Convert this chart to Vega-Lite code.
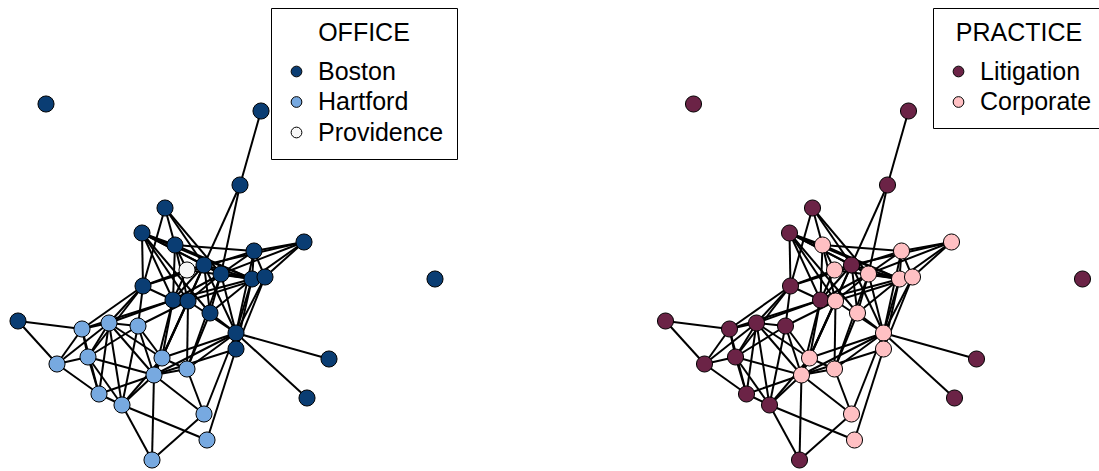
{
  "$schema": "https://vega.github.io/schema/vega-lite/v6.json",
  "padding": 0,
  "spacing": 0,
  "background": "white",
  "config": {
    "view": {"stroke": null},
    "font": "Liberation Sans",
    "legend": {
      "orient": "none",
      "strokeColor": "black",
      "strokeWidth": 1,
      "fillColor": "white",
      "cornerRadius": 0,
      "padding": 13,
      "titleFontSize": 25,
      "titleFontWeight": "normal",
      "titleColor": "black",
      "titleAnchor": "middle",
      "titlePadding": 13,
      "labelFontSize": 25,
      "labelColor": "black",
      "labelOffset": 9,
      "rowPadding": 4.5,
      "symbolSize": 115,
      "symbolStrokeColor": "black",
      "symbolStrokeWidth": 1,
      "symbolType": "circle"
    }
  },
  "datasets": {
    "nodes": [
      {"id": 1, "x": 240, "y": 185, "office": "Boston", "practice": "Litigation"},
      {"id": 2, "x": 165, "y": 208, "office": "Boston", "practice": "Litigation"},
      {"id": 3, "x": 142, "y": 233, "office": "Boston", "practice": "Litigation"},
      {"id": 4, "x": 175, "y": 245, "office": "Boston", "practice": "Corporate"},
      {"id": 5, "x": 254, "y": 251, "office": "Boston", "practice": "Corporate"},
      {"id": 6, "x": 304, "y": 242, "office": "Boston", "practice": "Corporate"},
      {"id": 7, "x": 187, "y": 270, "office": "Providence", "practice": "Corporate"},
      {"id": 8, "x": 204, "y": 265, "office": "Boston", "practice": "Litigation"},
      {"id": 9, "x": 221, "y": 274, "office": "Boston", "practice": "Corporate"},
      {"id": 10, "x": 252, "y": 279, "office": "Boston", "practice": "Corporate"},
      {"id": 11, "x": 265, "y": 277, "office": "Boston", "practice": "Corporate"},
      {"id": 12, "x": 143, "y": 286, "office": "Boston", "practice": "Litigation"},
      {"id": 13, "x": 173, "y": 300, "office": "Boston", "practice": "Litigation"},
      {"id": 14, "x": 188, "y": 301, "office": "Boston", "practice": "Corporate"},
      {"id": 15, "x": 210, "y": 313, "office": "Boston", "practice": "Corporate"},
      {"id": 16, "x": 18, "y": 321, "office": "Boston", "practice": "Litigation"},
      {"id": 17, "x": 236, "y": 333, "office": "Boston", "practice": "Corporate"},
      {"id": 18, "x": 236, "y": 349, "office": "Boston", "practice": "Corporate"},
      {"id": 19, "x": 329, "y": 359, "office": "Boston", "practice": "Litigation"},
      {"id": 20, "x": 307, "y": 398, "office": "Boston", "practice": "Litigation"},
      {"id": 21, "x": 46, "y": 104, "office": "Boston", "practice": "Litigation"},
      {"id": 22, "x": 261, "y": 111, "office": "Boston", "practice": "Litigation"},
      {"id": 23, "x": 435, "y": 279, "office": "Boston", "practice": "Litigation"},
      {"id": 24, "x": 82, "y": 329, "office": "Hartford", "practice": "Litigation"},
      {"id": 25, "x": 109, "y": 323, "office": "Hartford", "practice": "Litigation"},
      {"id": 26, "x": 138, "y": 326, "office": "Hartford", "practice": "Litigation"},
      {"id": 27, "x": 57, "y": 364, "office": "Hartford", "practice": "Litigation"},
      {"id": 28, "x": 88, "y": 357, "office": "Hartford", "practice": "Litigation"},
      {"id": 29, "x": 162, "y": 358, "office": "Hartford", "practice": "Corporate"},
      {"id": 30, "x": 187, "y": 369, "office": "Hartford", "practice": "Corporate"},
      {"id": 31, "x": 154, "y": 375, "office": "Hartford", "practice": "Corporate"},
      {"id": 32, "x": 99, "y": 394, "office": "Hartford", "practice": "Litigation"},
      {"id": 33, "x": 122, "y": 405, "office": "Hartford", "practice": "Litigation"},
      {"id": 34, "x": 204, "y": 414, "office": "Hartford", "practice": "Corporate"},
      {"id": 35, "x": 207, "y": 440, "office": "Hartford", "practice": "Corporate"},
      {"id": 36, "x": 152, "y": 460, "office": "Hartford", "practice": "Litigation"}
    ],
    "edges": [
      {"s": 22, "t": 1}, {"s": 1, "t": 8}, {"s": 1, "t": 9},
      {"s": 2, "t": 4}, {"s": 2, "t": 8}, {"s": 2, "t": 12}, {"s": 2, "t": 9},
      {"s": 3, "t": 4}, {"s": 3, "t": 8}, {"s": 3, "t": 9}, {"s": 3, "t": 10}, {"s": 3, "t": 13}, {"s": 3, "t": 12}, {"s": 3, "t": 14}, {"s": 3, "t": 15},
      {"s": 4, "t": 5}, {"s": 4, "t": 7}, {"s": 4, "t": 10}, {"s": 4, "t": 13}, {"s": 4, "t": 14},
      {"s": 5, "t": 10}, {"s": 5, "t": 11}, {"s": 5, "t": 6}, {"s": 5, "t": 9}, {"s": 5, "t": 17}, {"s": 5, "t": 12},
      {"s": 6, "t": 10}, {"s": 6, "t": 11}, {"s": 6, "t": 9}, {"s": 6, "t": 8},
      {"s": 7, "t": 12}, {"s": 7, "t": 13}, {"s": 7, "t": 8}, {"s": 7, "t": 10},
      {"s": 8, "t": 9}, {"s": 8, "t": 10}, {"s": 8, "t": 13}, {"s": 8, "t": 14}, {"s": 8, "t": 17}, {"s": 8, "t": 31}, {"s": 8, "t": 15},
      {"s": 9, "t": 10}, {"s": 9, "t": 11}, {"s": 9, "t": 13}, {"s": 9, "t": 14}, {"s": 9, "t": 17}, {"s": 9, "t": 30}, {"s": 9, "t": 15},
      {"s": 10, "t": 11}, {"s": 10, "t": 17}, {"s": 10, "t": 18}, {"s": 10, "t": 13}, {"s": 10, "t": 15},
      {"s": 11, "t": 17}, {"s": 11, "t": 18}, {"s": 11, "t": 14},
      {"s": 12, "t": 13}, {"s": 12, "t": 25}, {"s": 12, "t": 26}, {"s": 12, "t": 24}, {"s": 12, "t": 28},
      {"s": 13, "t": 14}, {"s": 13, "t": 25}, {"s": 13, "t": 29}, {"s": 13, "t": 31}, {"s": 13, "t": 24},
      {"s": 14, "t": 17}, {"s": 14, "t": 29}, {"s": 14, "t": 30}, {"s": 14, "t": 31}, {"s": 14, "t": 26},
      {"s": 15, "t": 17}, {"s": 15, "t": 30},
      {"s": 16, "t": 24}, {"s": 16, "t": 27},
      {"s": 17, "t": 19}, {"s": 17, "t": 20}, {"s": 17, "t": 34}, {"s": 17, "t": 30}, {"s": 17, "t": 31}, {"s": 17, "t": 29},
      {"s": 18, "t": 35}, {"s": 18, "t": 31},
      {"s": 24, "t": 25}, {"s": 24, "t": 27}, {"s": 24, "t": 28}, {"s": 24, "t": 32},
      {"s": 25, "t": 26}, {"s": 25, "t": 28}, {"s": 25, "t": 27}, {"s": 25, "t": 31}, {"s": 25, "t": 29}, {"s": 25, "t": 32}, {"s": 25, "t": 33},
      {"s": 26, "t": 28}, {"s": 26, "t": 31}, {"s": 26, "t": 29}, {"s": 26, "t": 33},
      {"s": 27, "t": 32}, {"s": 27, "t": 28},
      {"s": 28, "t": 32}, {"s": 28, "t": 31}, {"s": 28, "t": 33},
      {"s": 29, "t": 30}, {"s": 29, "t": 31},
      {"s": 30, "t": 31}, {"s": 30, "t": 34},
      {"s": 31, "t": 32}, {"s": 31, "t": 33}, {"s": 31, "t": 34}, {"s": 31, "t": 36},
      {"s": 32, "t": 33},
      {"s": 33, "t": 36}, {"s": 33, "t": 35}, {"s": 33, "t": 29},
      {"s": 34, "t": 36}
    ]
  },
  "resolve": {"scale": {"fill": "independent", "x": "independent", "y": "independent"}, "legend": {"fill": "independent"}},
  "hconcat": [
    {
      "width": 549,
      "height": 471,
      "layer": [
        {
          "data": {"name": "edges"},
          "transform": [
            {"lookup": "s", "from": {"data": {"name": "nodes"}, "key": "id", "fields": ["x", "y"]}, "as": ["xs", "ys"]},
            {"lookup": "t", "from": {"data": {"name": "nodes"}, "key": "id", "fields": ["x", "y"]}, "as": ["xt", "yt"]}
          ],
          "mark": {"type": "rule", "color": "black", "strokeWidth": 2},
          "encoding": {
            "x": {"field": "xs", "type": "quantitative", "scale": {"domain": [0, 549], "nice": false, "zero": false}, "axis": null},
            "y": {"field": "ys", "type": "quantitative", "scale": {"domain": [0, 471], "reverse": true, "nice": false, "zero": false}, "axis": null},
            "x2": {"field": "xt"},
            "y2": {"field": "yt"}
          }
        },
        {
          "data": {"name": "nodes"},
          "mark": {"type": "point", "shape": "circle", "filled": true, "size": 260, "stroke": "black", "strokeWidth": 1, "opacity": 1},
          "encoding": {
            "x": {"field": "x", "type": "quantitative"},
            "y": {"field": "y", "type": "quantitative"},
            "fill": {
              "field": "office", "type": "nominal", "title": "OFFICE",
              "scale": {"domain": ["Boston", "Hartford", "Providence"], "range": ["#0a3d73", "#77a9e0", "#f7f7f7"]},
              "legend": {"legendX": 271, "legendY": 8}
            }
          }
        }
      ]
    },
    {
      "width": 549,
      "height": 471,
      "layer": [
        {
          "data": {"name": "edges"},
          "transform": [
            {"lookup": "s", "from": {"data": {"name": "nodes"}, "key": "id", "fields": ["x", "y"]}, "as": ["xs", "ys"]},
            {"lookup": "t", "from": {"data": {"name": "nodes"}, "key": "id", "fields": ["x", "y"]}, "as": ["xt", "yt"]}
          ],
          "mark": {"type": "rule", "color": "black", "strokeWidth": 2},
          "encoding": {
            "x": {"field": "xs", "type": "quantitative", "scale": {"domain": [-98.5, 450.5], "nice": false, "zero": false}, "axis": null},
            "y": {"field": "ys", "type": "quantitative", "scale": {"domain": [0, 471], "reverse": true, "nice": false, "zero": false}, "axis": null},
            "x2": {"field": "xt"},
            "y2": {"field": "yt"}
          }
        },
        {
          "data": {"name": "nodes"},
          "mark": {"type": "point", "shape": "circle", "filled": true, "size": 260, "stroke": "black", "strokeWidth": 1, "opacity": 1},
          "encoding": {
            "x": {"field": "x", "type": "quantitative"},
            "y": {"field": "y", "type": "quantitative"},
            "fill": {
              "field": "practice", "type": "nominal", "title": "PRACTICE",
              "scale": {"domain": ["Litigation", "Corporate"], "range": ["#6b2346", "#ffc0c3"]},
              "legend": {"legendX": 384, "legendY": 8}
            }
          }
        }
      ]
    }
  ]
}
